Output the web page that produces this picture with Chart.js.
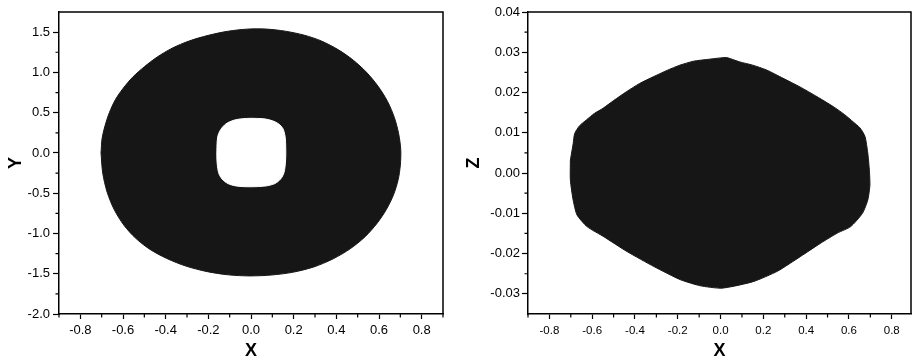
<!DOCTYPE html>
<html>
<head>
<meta charset="utf-8">
<script src="https://cdn.jsdelivr.net/npm/chart.js@4.4.1/dist/chart.umd.min.js"></script>
<style>
  html, body { margin: 0; padding: 0; background: #fff; }
  #wrap { position: relative; width: 914px; height: 364px; }
  #leftBox { position: absolute; left: 0; top: 0; width: 457px; height: 364px; }
  #rightBox { position: absolute; left: 457px; top: 0; width: 457px; height: 364px; }
</style>
</head>
<body>
<div id="wrap">
  <div id="leftBox"><canvas id="xyChart" width="457" height="364"></canvas></div>
  <div id="rightBox"><canvas id="xzChart" width="457" height="364"></canvas></div>
</div>
<script>
// outline of the X-Y ring (outer edge)
var ringOuterX = [-0.703, -0.698, -0.684, -0.664, -0.636, -0.600, -0.555, -0.500, -0.440, -0.370, -0.290, -0.200, -0.110, -0.020, 0.070, 0.160, 0.250, 0.330, 0.410, 0.480, 0.540, 0.595, 0.640, 0.672, 0.692, 0.702,
                  0.700, 0.690, 0.668, 0.635, 0.592, 0.535, 0.465, 0.385, 0.295, 0.195, 0.095, -0.005, -0.105, -0.205, -0.305, -0.395, -0.475, -0.540, -0.595, -0.640, -0.674, -0.695];
var ringOuterY = [0.000, 0.180, 0.340, 0.500, 0.660, 0.800, 0.940, 1.070, 1.190, 1.300, 1.390, 1.460, 1.510, 1.537, 1.538, 1.512, 1.462, 1.390, 1.280, 1.150, 1.005, 0.830, 0.640, 0.440, 0.240, 0.040,
                  -0.150, -0.330, -0.520, -0.700, -0.870, -1.040, -1.190, -1.315, -1.415, -1.482, -1.516, -1.527, -1.514, -1.474, -1.405, -1.310, -1.195, -1.060, -0.900, -0.710, -0.490, -0.250];
// hole in the middle of the ring
var ringInnerX = [0.000, 0.060, 0.100, 0.130, 0.150, 0.160, 0.163, 0.162, 0.155, 0.140, 0.112, 0.070, 0.000, -0.060, -0.100, -0.130, -0.150, -0.159, -0.160, -0.156, -0.142, -0.118, -0.082, -0.040];
var ringInnerY = [0.430, 0.424, 0.400, 0.360, 0.300, 0.200, 0.050, -0.100, -0.240, -0.320, -0.380, -0.410, -0.420, -0.414, -0.390, -0.340, -0.260, -0.120, 0.030, 0.200, 0.290, 0.360, 0.405, 0.425];
// outline of the X-Z projection
var sideX = [-0.702, -0.689, -0.682, -0.660, -0.627, -0.590, -0.549, -0.500, -0.440, -0.380, -0.315, -0.250, -0.190, -0.125, -0.065, 0.000, 0.028, 0.090, 0.150, 0.215, 0.290, 0.371, 0.450, 0.527, 0.580, 0.620, 0.652, 0.675,
             0.688, 0.695, 0.698, 0.688, 0.663, 0.608, 0.546, 0.468, 0.374, 0.265, 0.156, 0.062, 0.000, -0.094, -0.187, -0.312, -0.437, -0.546, -0.624, -0.671, -0.689, -0.702];
var sideZ = [0.0032, 0.0073, 0.0098, 0.0117, 0.0132, 0.0148, 0.0161, 0.0180, 0.0202, 0.0222, 0.0239, 0.0255, 0.0268, 0.0278, 0.0282, 0.0286, 0.0287, 0.0276, 0.0268, 0.0256, 0.0236, 0.0214, 0.0190, 0.0165, 0.0145, 0.0127, 0.0112, 0.0091,
             0.0050, 0.0010, -0.0030, -0.0067, -0.0100, -0.0133, -0.0149, -0.0174, -0.0207, -0.0244, -0.0269, -0.0281, -0.0286, -0.0280, -0.0265, -0.0232, -0.0195, -0.0158, -0.0133, -0.0104, -0.0067, -0.0017];

// ticks
var xMajor = [-0.8, -0.6, -0.4, -0.2, 0.0, 0.2, 0.4, 0.6, 0.8];
var xMinor = [-0.9, -0.7, -0.5, -0.3, -0.1, 0.1, 0.3, 0.5, 0.7, 0.9];
var yMajor = [-2.0, -1.5, -1.0, -0.5, 0.0, 0.5, 1.0, 1.5];
var yMinor = [-1.75, -1.25, -0.75, -0.25, 0.25, 0.75, 1.25];
var zMajor = [-0.03, -0.02, -0.01, 0.00, 0.01, 0.02, 0.03, 0.04];
var zMinor = [-0.025, -0.015, -0.005, 0.005, 0.015, 0.025, 0.035];

var INK = '#161616';

function toPoints(xs, ys) {
  var pts = xs.map(function(v, i) { return {x: v, y: ys[i]}; });
  pts.push({x: xs[0], y: ys[0]});
  return pts;
}

Chart.defaults.font.family = 'Arial, "Liberation Sans", sans-serif';
Chart.defaults.color = '#000';

// top/right frame lines and short minor ticks
var frameTicks = {
  id: 'frameTicks',
  afterDraw: function(chart, args, opts) {
    var ctx = chart.ctx, a = chart.chartArea;
    var xs = chart.scales.x, ys = chart.scales.y;
    ctx.save();
    ctx.strokeStyle = '#000';
    ctx.lineWidth = 1.5;
    ctx.beginPath();
    ctx.moveTo(a.left, a.top);
    ctx.lineTo(a.right, a.top);
    ctx.lineTo(a.right, a.bottom);
    ctx.stroke();
    ctx.lineWidth = 1.2;
    ctx.beginPath();
    opts.xMinor.forEach(function(v) {
      if (v < xs.min || v > xs.max) return;
      var px = xs.getPixelForValue(v);
      ctx.moveTo(px, a.bottom);
      ctx.lineTo(px, a.bottom + 3.5);
    });
    opts.yMinor.forEach(function(v) {
      var py = ys.getPixelForValue(v);
      ctx.moveTo(a.left, py);
      ctx.lineTo(a.left - 3.5, py);
    });
    ctx.stroke();
    ctx.restore();
  }
};

function makeAxis(opt) {
  return {
    type: 'linear',
    position: opt.position,
    min: opt.min,
    max: opt.max,
    afterBuildTicks: function(scale) {
      scale.ticks = opt.major.map(function(v) { return {value: v}; });
    },
    afterFit: function(scale) {
      if (opt.position === 'bottom') scale.height = opt.size; else scale.width = opt.size;
    },
    grid: { drawOnChartArea: false, drawTicks: true, tickLength: opt.tickLength, tickColor: '#000', tickWidth: 1.2 },
    border: { display: true, color: '#000', width: 1.5 },
    ticks: {
      autoSkip: false,
      maxRotation: 0,
      padding: opt.pad,
      color: '#000',
      font: { size: opt.fontSize },
      callback: function(v) { return Number(v).toFixed(opt.digits); }
    },
    title: {
      display: true,
      text: opt.title,
      color: '#000',
      font: { size: 18, weight: 'bold' },
      padding: opt.titlePad
    }
  };
}

new Chart(document.getElementById('xyChart').getContext('2d'), {
  type: 'line',
  data: {
    datasets: [
      {
        data: toPoints(ringInnerX, ringInnerY),
        borderColor: '#fff', backgroundColor: '#fff', borderWidth: 1,
        fill: 'shape', pointRadius: 0, tension: 0.3
      },
      {
        data: toPoints(ringOuterX, ringOuterY),
        borderColor: INK, backgroundColor: INK, borderWidth: 1,
        fill: 'shape', pointRadius: 0, tension: 0.3
      }
    ]
  },
  options: {
    responsive: false,
    animation: false,
    layout: { padding: { top: 12, right: 14, left: 0, bottom: 0 } },
    plugins: {
      legend: { display: false },
      tooltip: { enabled: false },
      frameTicks: { xMinor: xMinor, yMinor: yMinor }
    },
    scales: {
      x: makeAxis({ position: 'bottom', min: -0.9, max: 0.9, major: xMajor, size: 50, tickLength: 5, pad: 4, fontSize: 13, digits: 1, title: 'X', titlePad: { top: 0, bottom: 2 } }),
      y: makeAxis({ position: 'left', min: -2.0, max: 1.75, major: yMajor, size: 59, tickLength: 6, pad: 3, fontSize: 13, digits: 1, title: 'Y', titlePad: { top: 5, bottom: 0 } })
    }
  },
  plugins: [frameTicks]
});

new Chart(document.getElementById('xzChart').getContext('2d'), {
  type: 'line',
  data: {
    datasets: [
      {
        data: toPoints(sideX, sideZ),
        borderColor: INK, backgroundColor: INK, borderWidth: 1,
        fill: 'shape', pointRadius: 0, tension: 0.2
      }
    ]
  },
  options: {
    responsive: false,
    animation: false,
    layout: { padding: { top: 12, right: 3, left: 0, bottom: 0 } },
    plugins: {
      legend: { display: false },
      tooltip: { enabled: false },
      frameTicks: { xMinor: xMinor, yMinor: zMinor }
    },
    scales: {
      x: makeAxis({ position: 'bottom', min: -0.9, max: 0.89, major: xMajor, size: 50, tickLength: 5, pad: 5, fontSize: 11.5, digits: 1, title: 'X', titlePad: { top: 0, bottom: 2 } }),
      y: makeAxis({ position: 'left', min: -0.035, max: 0.04, major: zMajor, size: 71, tickLength: 6, pad: 2, fontSize: 13, digits: 2, title: 'Z', titlePad: { top: 6, bottom: 0 } })
    }
  },
  plugins: [frameTicks]
});
</script>
</body>
</html>
